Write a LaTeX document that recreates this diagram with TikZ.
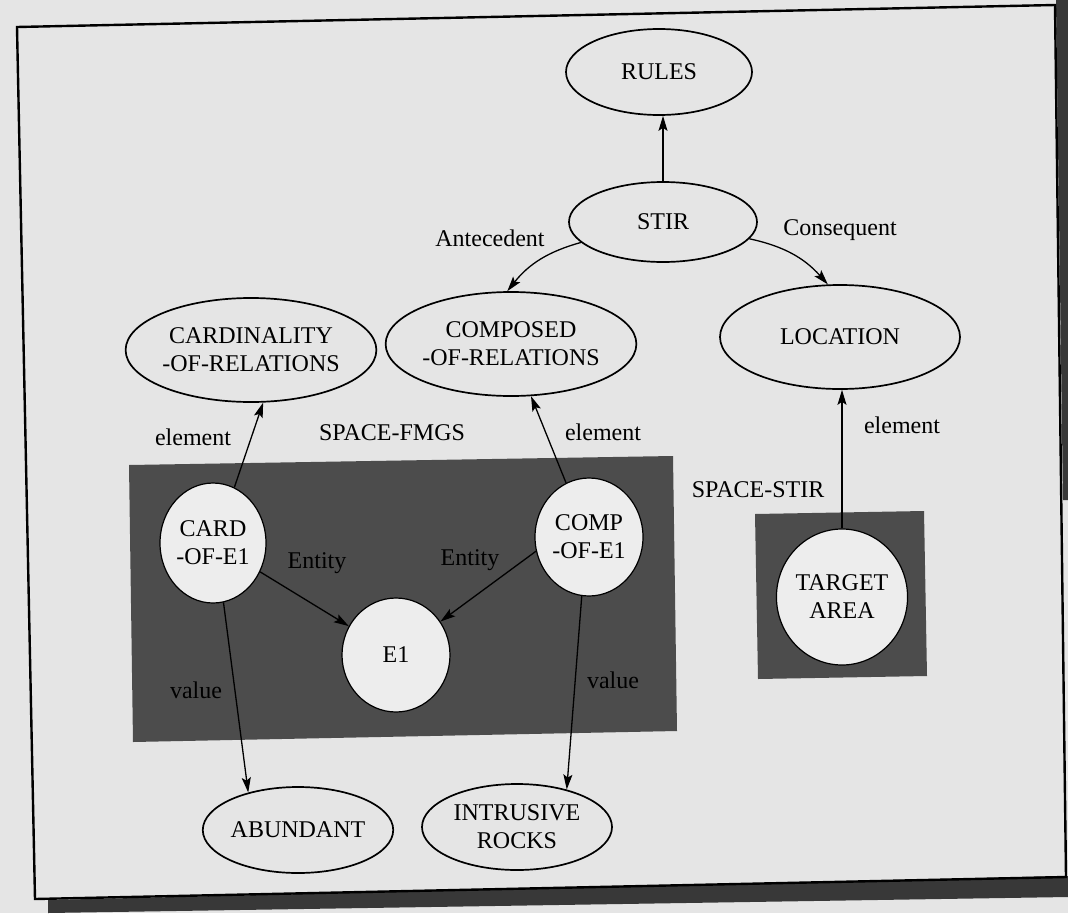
\documentclass[tikz,border=0pt]{standalone}
\usepackage{fontspec}
\setmainfont{Liberation Serif}
\usetikzlibrary{arrows.meta,shapes.geometric}
\definecolor{paper}{gray}{0.90}
\definecolor{darkfill}{gray}{0.30}
\definecolor{scanshadow}{gray}{0.22}
\definecolor{bubble}{gray}{0.93}
\begin{document}
\begin{tikzpicture}[x=1pt,y=-1pt,
  every node/.style={font=\fontsize{24}{28}\selectfont, inner sep=0pt, align=center},
  ov/.style 2 args={ellipse, draw, line width=1.7pt, fill=paper, minimum width=#1, minimum height=#2},
  cir/.style 2 args={ellipse, draw, line width=1.2pt, fill=bubble, minimum width=#1, minimum height=#2},
  arr/.style={line width=1.3pt, -{Stealth[length=15pt,width=9pt,inset=3pt]}},
  frame/.style={line width=2.4pt, line join=miter}]
\useasboundingbox (0,0) rectangle (1068,913);
\fill[paper] (0,0) rectangle (1068,913);
% scan shadows
\fill[scanshadow] (48,900) -- (1068,876) -- (1068,897) -- (48,913) -- cycle;
\fill[scanshadow] (1056,0) -- (1068,0) -- (1068,500) -- (1063,500) -- cycle;
% frame
\draw[frame] (17,27) -- (1055,5) -- (1066,877) -- (35,899) -- cycle;
% shaded spaces
\fill[darkfill] (129,465) -- (673,456) -- (677,731) -- (133,742) -- cycle;
\fill[darkfill] (755,514) -- (924,511) -- (927,676) -- (758,679) -- cycle;
% nodes
\node[ov={186}{86}] (rules) at (659,72) {RULES};
\node[ov={188}{80}] (stir) at (663,222) {STIR};
\node[ov={242}{104}] (cardrel) at (251,350) {CARDINALITY\\-OF-RELATIONS};
\node[ov={242}{104}] (comprel) at (511,344) {COMPOSED\\-OF-RELATIONS};
\node[ov={240}{104}] (loc) at (840,337) {LOCATION};
\node[cir={106}{120}] (card) at (213,543) {CARD\\-OF-E1};
\node[cir={108}{118}] (comp) at (589,537) {COMP\\-OF-E1};
\node[cir={108}{114}] (e1) at (396,655) {E1};
\node[cir={124}{136}] (target) at (842,597) {TARGET\\AREA};
\node[ov={190}{86}] (abund) at (298,830) {ABUNDANT};
\node[ov={190}{86}] (intr) at (517,827) {INTRUSIVE\\ROCKS};
% labels
\node (lant) at (490,238) {Antecedent};
\node (lcon) at (840,230) {Consequent};
\node (lel1) at (193,437) {element};
\node (lfmgs) at (392,433) {SPACE-FMGS};
\node (lel2) at (603,432) {element};
\node (lel3) at (902,425) {element};
\node (lstir) at (758,490) {SPACE-STIR};
\node (lent1) at (317,563) {Entity};
\node (lent2) at (470,560) {Entity};
\node (lval1) at (196,690) {value};
\node (lval2) at (613,680) {value};
% connectors
\draw[arr] (stir.north) -- (stir.north |- rules.south);
\draw[arr] (stir.194) to[bend right=18] (comprel.94);
\draw[arr] (stir.349) to[bend left=18] (loc.103);
\draw[arr] (card.69) -- (cardrel.283);
\draw[arr] (comp.113) -- (comprel.291);
\draw[arr] (target.north) -- (target.north |- loc.south);
\draw[arr] (card) -- (e1);
\draw[arr] (comp.195) -- (e1.37);
\draw[arr] (card.280) -- (abund.143);
\draw[arr] (comp.263) -- (intr.37);
\end{tikzpicture}
\end{document}
